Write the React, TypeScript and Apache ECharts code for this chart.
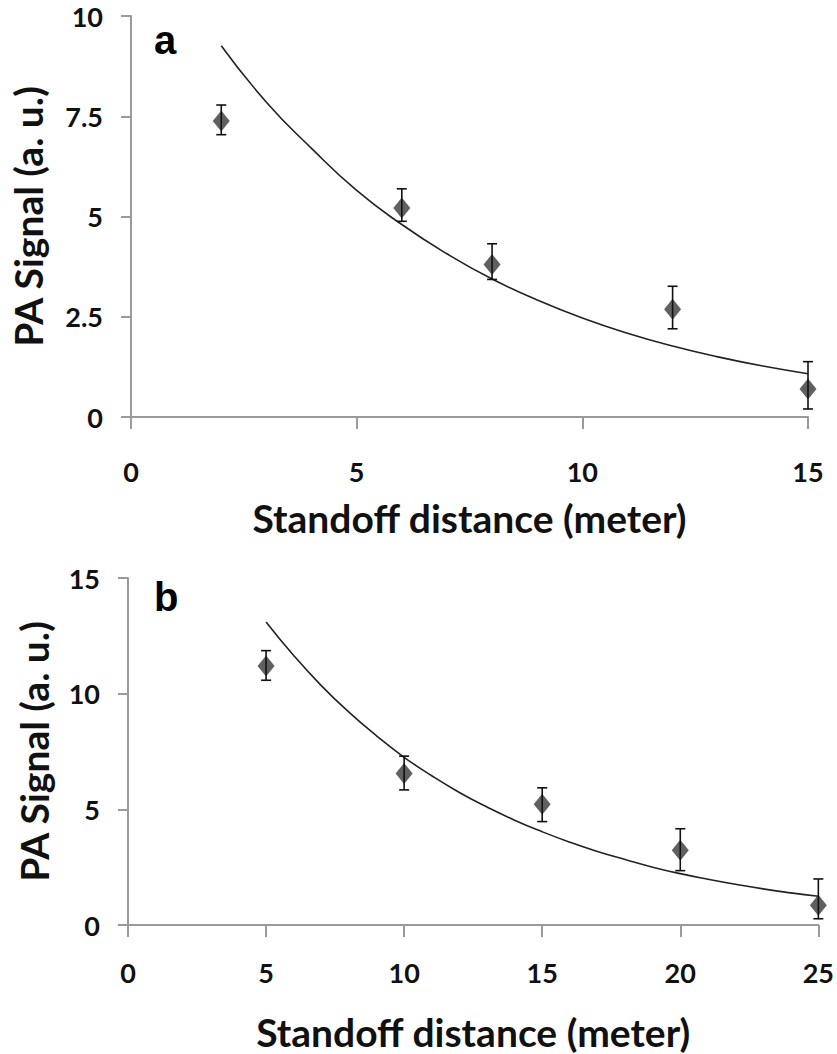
import React, { useEffect, useRef } from "react";
import * as echarts from "echarts";

// Panel a
const aX = [2, 6, 8, 12, 15];
const aY = [7.38, 5.21, 3.8, 2.69, 0.7];
const aLow = [7.04, 4.88, 3.43, 2.2, 0.2];
const aHigh = [7.78, 5.69, 4.32, 3.26, 1.38];
const aFitX = [2, 3, 4, 5, 6, 7, 8, 9, 10, 11, 12, 13, 14, 15];
const aFitY = [9.26, 7.85, 6.7, 5.65, 4.8, 4.07, 3.44, 2.92, 2.47, 2.09, 1.77, 1.5, 1.27, 1.08];
const aYTicks = ["0", "2.5", "5", "7.5", "10"];

// Panel b
const bX = [5, 10, 15, 20, 25];
const bY = [11.2, 6.55, 5.22, 3.23, 0.85];
const bLow = [10.58, 5.84, 4.47, 2.35, 0.27];
const bHigh = [11.86, 7.3, 5.93, 4.16, 1.99];
const bFitX = [5, 6, 7, 8, 9, 10, 11, 12, 13, 14, 15, 16, 17, 18, 19, 20, 21, 22, 23, 24, 25];
const bFitY = [13.1, 11.65, 10.35, 9.2, 8.18, 7.25, 6.45, 5.73, 5.1, 4.53, 4.03, 3.58, 3.18, 2.83, 2.5, 2.22, 1.98, 1.76, 1.56, 1.39, 1.24];

const xTitle = "Standoff distance (meter)";
const yTitle = "PA Signal (a. u.)";

const FONT = "Lato";
const AXIS_GRAY = "#9a9a9a";
const TITLE_SIZE = 39;
const TICK_SIZE = 27;

function errRender(params: any, api: any) {
  const x = api.value(0);
  const lo = api.coord([x, api.value(1)]);
  const hi = api.coord([x, api.value(2)]);
  const hw = 5;
  const style = { stroke: "#111", lineWidth: 1.6 };
  return {
    type: "group",
    children: [
      { type: "line", shape: { x1: lo[0], y1: lo[1], x2: hi[0], y2: hi[1] }, style },
      { type: "line", shape: { x1: lo[0] - hw, y1: lo[1], x2: lo[0] + hw, y2: lo[1] }, style },
      { type: "line", shape: { x1: hi[0] - hw, y1: hi[1], x2: hi[0] + hw, y2: hi[1] }, style },
    ],
  };
}

function xAxisCfg(gridIndex: number, max: number, nameGap: number, labelMargin: number) {
  return {
    type: "value",
    gridIndex,
    min: 0,
    max,
    interval: 5,
    name: xTitle,
    nameLocation: "middle",
    nameGap,
    nameTextStyle: { fontFamily: FONT, fontWeight: 700, fontSize: TITLE_SIZE, color: "#111" },
    axisLine: { show: true, onZero: false, lineStyle: { color: AXIS_GRAY, width: 2 } },
    axisTick: { show: true, inside: false, length: 12, lineStyle: { color: AXIS_GRAY, width: 2 } },
    axisLabel: { fontFamily: FONT, fontWeight: 700, fontSize: TICK_SIZE, color: "#111", margin: labelMargin },
    splitLine: { show: false },
  };
}

function yAxisCfg(gridIndex: number, max: number, interval: number, nameGap: number, labels?: string[]) {
  return {
    type: "value",
    gridIndex,
    min: 0,
    max,
    interval,
    name: yTitle,
    nameLocation: "middle",
    nameRotate: 90,
    nameGap,
    nameTextStyle: { fontFamily: FONT, fontWeight: 700, fontSize: TITLE_SIZE, color: "#111" },
    axisLine: { show: true, onZero: false, lineStyle: { color: AXIS_GRAY, width: 2 } },
    axisTick: { show: true, inside: false, length: 10, lineStyle: { color: AXIS_GRAY, width: 2 } },
    axisLabel: {
      fontFamily: FONT,
      fontWeight: 700,
      fontSize: TICK_SIZE,
      lineHeight: 20,
      color: "#111",
      margin: 28,
      formatter: (v: number) => {
        if (labels) {
          const idx = Math.round(v / interval);
          return labels[idx] ?? String(v);
        }
        return String(v);
      },
    },
    splitLine: { show: false },
  };
}

export default function App() {
  const ref = useRef<HTMLDivElement>(null);
  useEffect(() => {
    document.body.style.margin = "0";
    const chart = echarts.init(ref.current!, undefined, { renderer: "svg" });
    const diamond = { color: "#383838" };
    chart.setOption({
      animation: false,
      backgroundColor: "#fff",
      grid: [
        { left: 128, top: 16, width: 680, height: 401 },
        { left: 128, top: 578, width: 692, height: 347 },
      ],
      xAxis: [xAxisCfg(0, 15, 81, 41), xAxisCfg(1, 25, 87, 34)],
      yAxis: [yAxisCfg(0, 10, 2.5, 84, aYTicks), yAxisCfg(1, 15, 5, 75)],
      graphic: [
        { type: "text", left: 154, top: 20, style: { text: "a", font: "bold 40px 'Liberation Sans', Arial", fill: "#000" } },
        { type: "text", left: 154, top: 577, style: { text: "b", font: "bold 40px 'Liberation Sans', Arial", fill: "#000" } },
      ],
      series: [
        {
          type: "line",
          xAxisIndex: 0,
          yAxisIndex: 0,
          data: aFitX.map((x, i) => [x, aFitY[i]]),
          smooth: true,
          showSymbol: false,
          lineStyle: { color: "#222", width: 1.6 },
          z: 2,
        },
        {
          type: "scatter",
          xAxisIndex: 0,
          yAxisIndex: 0,
          data: aX.map((x, i) => [x, aY[i]]),
          symbol: "diamond",
          symbolSize: [17, 21],
          itemStyle: diamond,
          z: 3,
        },
        {
          type: "custom",
          xAxisIndex: 0,
          yAxisIndex: 0,
          data: aX.map((x, i) => [x, aLow[i], aHigh[i]]),
          encode: { x: 0, y: [1, 2] },
          renderItem: errRender,
          z: 4,
        },
        {
          type: "line",
          xAxisIndex: 1,
          yAxisIndex: 1,
          data: bFitX.map((x, i) => [x, bFitY[i]]),
          smooth: true,
          showSymbol: false,
          lineStyle: { color: "#222", width: 1.6 },
          z: 2,
        },
        {
          type: "scatter",
          xAxisIndex: 1,
          yAxisIndex: 1,
          data: bX.map((x, i) => [x, bY[i]]),
          symbol: "diamond",
          symbolSize: [17, 21],
          itemStyle: diamond,
          z: 3,
        },
        {
          type: "custom",
          xAxisIndex: 1,
          yAxisIndex: 1,
          data: bX.map((x, i) => [x, bLow[i], bHigh[i]]),
          encode: { x: 0, y: [1, 2] },
          renderItem: errRender,
          z: 4,
        },
      ],
    });
    return () => chart.dispose();
  }, []);
  return <div ref={ref} style={{ width: 837, height: 1054 }} />;
}
